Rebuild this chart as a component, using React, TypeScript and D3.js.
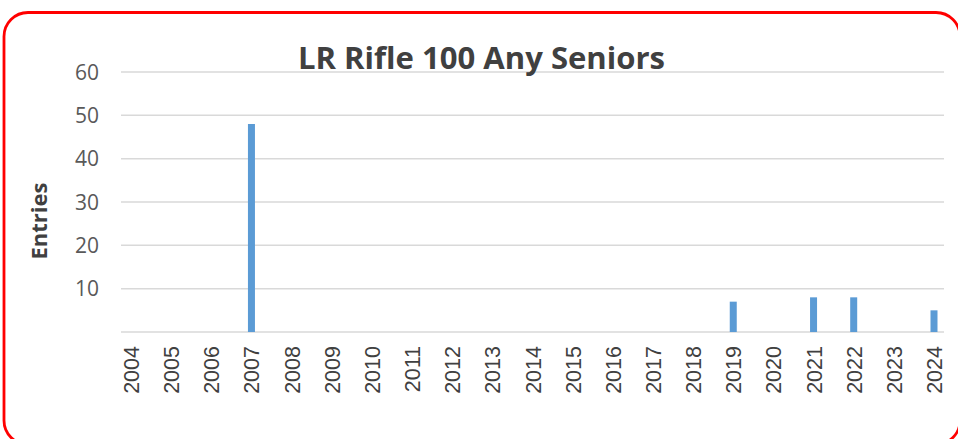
import React from "react";
import * as d3 from "d3";

const title = "LR Rifle 100 Any Seniors";
const yAxisTitle = "Entries";
const years = ["2004","2005","2006","2007","2008","2009","2010","2011","2012","2013","2014","2015","2016","2017","2018","2019","2020","2021","2022","2023","2024"];
const entries = [0,0,0,48,0,0,0,0,0,0,0,0,0,0,0,7,0,8,8,0,5];
const yTicks = [10,20,30,40,50,60];

export default function App() {
  const W = 958, H = 439;
  const x = d3.scalePoint<string>().domain(years).range([131, 934]);
  const y = d3.scaleLinear().domain([0, 60]).range([332, 72]);
  const barW = 7;
  return (
    <svg width={W} height={H} style={{ position: "absolute", left: 0, top: 0 }}>
      <rect x={0} y={0} width={W} height={H} fill="#fff" />
      <rect x={4} y={12.5} width={956} height={432} rx={24} ry={24} fill="none" stroke="#ff0000" strokeWidth={2.8} />
      {yTicks.map(t => (
        <line key={t} x1={121} x2={944} y1={y(t)} y2={y(t)} stroke="#d9d9d9" strokeWidth={1.5} />
      ))}
      <line x1={121} x2={944} y1={y(0)} y2={y(0)} stroke="#d9d9d9" strokeWidth={1.5} />
      {yTicks.map(t => (
        <text key={t} x={99} y={y(t) + 7.5} textAnchor="end" fontFamily="Open Sans" fontSize={21} fill="#595959">{t}</text>
      ))}
      {years.map((yr, i) => entries[i] > 0 ? (
        <rect key={yr} x={(x(yr) as number) - barW / 2} y={y(entries[i])} width={barW} height={y(0) - y(entries[i])} fill="#5b9bd5" />
      ) : null)}
      {years.map(yr => (
        <text key={yr} transform={`translate(${(x(yr) as number) + 8},346) rotate(-90)`} textAnchor="end" fontFamily="Liberation Sans" fontSize={21.5} fill="#404040">{yr}</text>
      ))}
      <text x={481.5} y={69} textAnchor="middle" fontFamily="Open Sans" fontWeight="bold" fontSize={31} fill="#404040" textLength={367} lengthAdjust="spacingAndGlyphs">{title}</text>
      <text transform="translate(47,221) rotate(-90)" textAnchor="middle" fontFamily="Open Sans" fontWeight="bold" fontSize={22} fill="#404040" textLength={77} lengthAdjust="spacingAndGlyphs">{yAxisTitle}</text>
    </svg>
  );
}
